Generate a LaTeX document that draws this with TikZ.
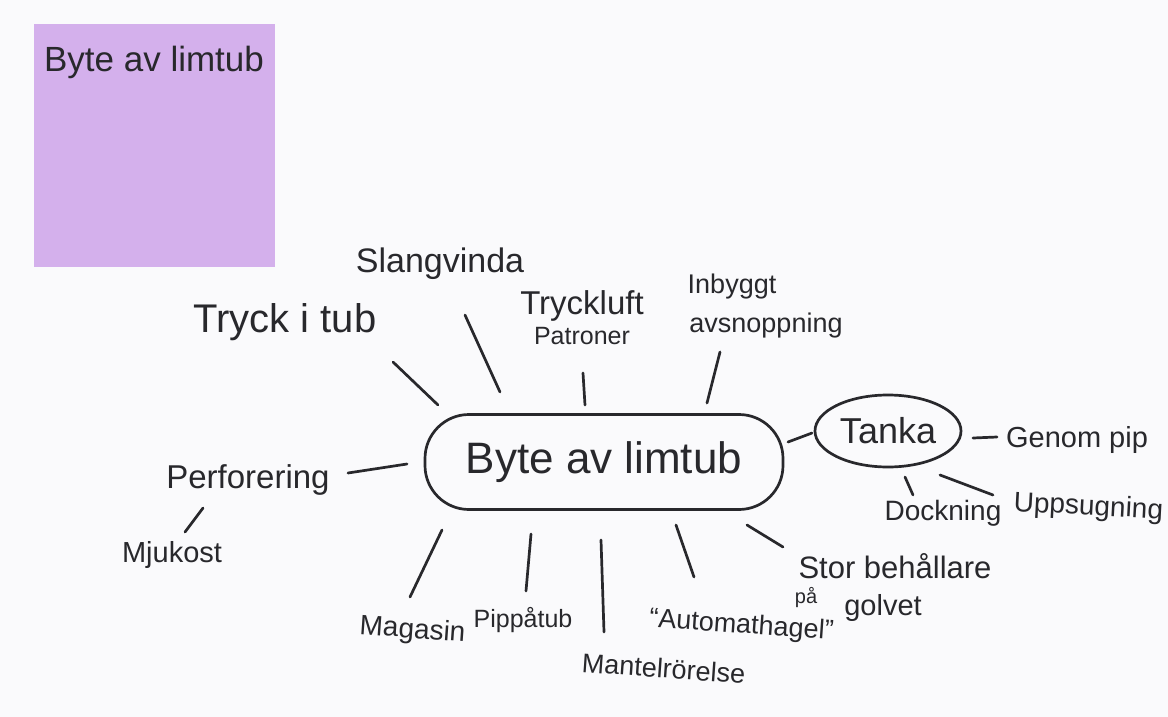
\documentclass[tikz,border=0pt]{standalone}
\usepackage{fontspec}
\setmainfont{Liberation Sans}
\usetikzlibrary{shapes.geometric}
\definecolor{inkc}{RGB}{40,40,44}
\definecolor{paper}{RGB}{250,250,252}
\definecolor{sticky}{RGB}{212,176,236}
\newcommand\fsz[1]{\fontsize{#1}{#1}\selectfont}
\tikzset{
  ink/.style={draw=inkc, line width=2.7pt, line cap=round},
  lbl/.style={text=inkc, inner sep=0pt, anchor=base},
}
\begin{document}
\begin{tikzpicture}[x=1pt,y=-1pt]
% canvas
\path[fill=paper,use as bounding box] (0,0) rectangle (1168,717);
% sticky note
\fill[sticky] (34,24) rectangle (275,267);
\node[lbl,font=\fsz{35}] (note) at (154,72) {Byte av limtub};

% central topic
\node[ink, rounded corners=44pt, minimum width=358pt, minimum height=95pt,
      text=inkc, font=\fsz{44}, inner sep=0pt] (main) at (604,462) {Byte av limtub};
\node[ink, ellipse, minimum width=146pt, minimum height=72pt, inner sep=0pt,
      text=inkc, font=\fsz{36}] (tanka) at (888,431) {\raisebox{-3pt}{Tanka}};

% labels
\node[lbl,font=\fsz{34}] (slang) at (440,272) {Slangvinda};
\node[lbl,font=\fsz{40}] (tryck) at (285,332) {Tryck i tub};
\node[lbl,font=\fsz{33}] (luft) at (582,314) {Tryckluft};
\node[lbl,font=\fsz{25}] (patr) at (582,344) {Patroner};
\node[lbl,font=\fsz{27}] (inb) at (732,293) {Inbyggt};
\node[lbl,font=\fsz{27}] (avs) at (766,332) {avsnoppning};
\node[lbl,font=\fsz{29}] (genom) at (1077,447) {Genom pip};
\node[lbl,font=\fsz{28}] (dock) at (943,520) {Dockning};
\node[lbl,font=\fsz{28},rotate=-3] (upps) at (1088,515) {Uppsugning};
\node[lbl,font=\fsz{33}] (perf) at (248,488) {Perforering};
\node[lbl,font=\fsz{29}] (mjuk) at (172,562) {Mjukost};
\node[lbl,font=\fsz{28},rotate=-4] (mag) at (412,638) {Magasin};
\node[lbl,font=\fsz{25}] (pip) at (523,627) {Pippåtub};
\node[lbl,font=\fsz{27},rotate=-4] (mant) at (663,678) {Mantelrörelse};
\node[lbl,font=\fsz{27},rotate=-4] (auto) at (741,633) {“Automathagel”};
\node[lbl,font=\fsz{31}] (stor) at (895,578) {Stor behållare};
\node[lbl,font=\fsz{20}] (pa) at (806,603) {på};
\node[lbl,font=\fsz{29}] (golv) at (883,615) {golvet};

% stroke end points
\coordinate (tt1) at (393,362);  \coordinate (tt2) at (438,405);
\coordinate (sv1) at (465,315);  \coordinate (sv2) at (500,392);
\coordinate (tl1) at (583,373);  \coordinate (tl2) at (585,405);
\coordinate (ib1) at (720,352);  \coordinate (ib2) at (707,403);
\coordinate (ta1) at (788,442);  \coordinate (ta2) at (812,433);
\coordinate (gp1) at (973,438);  \coordinate (gp2) at (997,437);
\coordinate (dk1) at (905,477);  \coordinate (dk2) at (913,495);
\coordinate (us1) at (940,475);  \coordinate (us2) at (993,495);
\coordinate (pf1) at (348,473);  \coordinate (pf2) at (407,464);
\coordinate (mj1) at (185,532);  \coordinate (mj2) at (203,508);
\coordinate (mg1) at (442,530);  \coordinate (mg2) at (410,597);
\coordinate (pp1) at (531,534);  \coordinate (pp2) at (526,591);
\coordinate (mr1) at (601,540);  \coordinate (mr2) at (604,632);
\coordinate (ah1) at (676,525);  \coordinate (ah2) at (694,577);
\coordinate (sb1) at (747,525);  \coordinate (sb2) at (783,547);

% strokes
\draw[ink] (tt1) -- (tt2);
\draw[ink] (sv1) -- (sv2);
\draw[ink] (tl1) -- (tl2);
\draw[ink] (ib1) -- (ib2);
\draw[ink] (ta1) -- (ta2);
\draw[ink] (gp1) -- (gp2);
\draw[ink] (dk1) -- (dk2);
\draw[ink] (us1) -- (us2);
\draw[ink] (pf1) -- (pf2);
\draw[ink] (mj1) -- (mj2);
\draw[ink] (mg1) -- (mg2);
\draw[ink] (pp1) -- (pp2);
\draw[ink] (mr1) -- (mr2);
\draw[ink] (ah1) -- (ah2);
\draw[ink] (sb1) -- (sb2);
\end{tikzpicture}
\end{document}
